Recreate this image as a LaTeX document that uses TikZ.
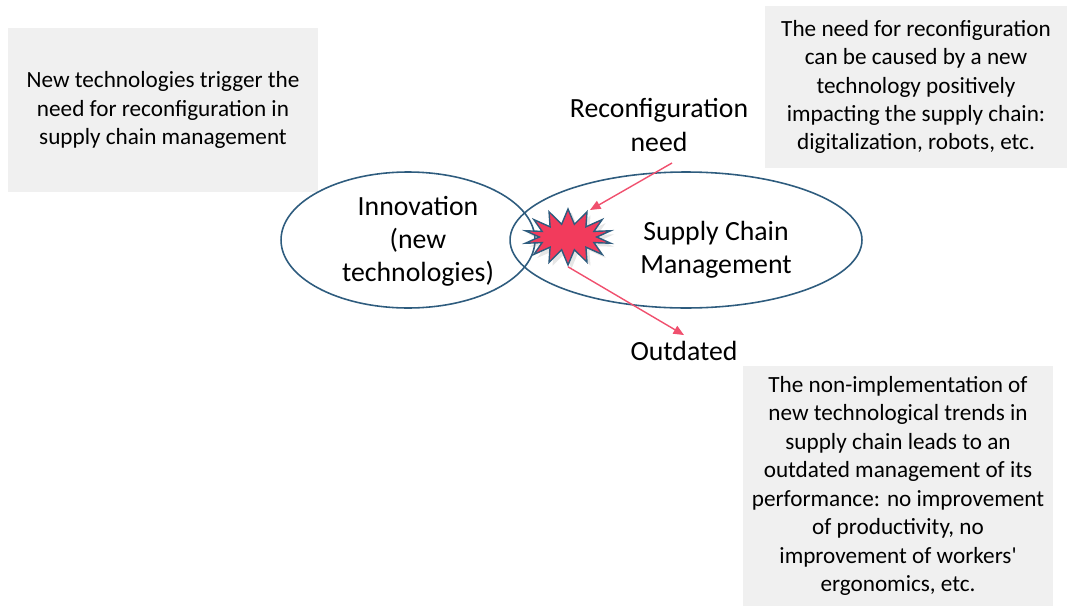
\documentclass[tikz,border=0pt]{standalone}
\usepackage{fontspec}
\setmainfont{Carlito}
\usetikzlibrary{shapes.geometric, shapes.symbols, shadows, arrows.meta}

\definecolor{ringblue}{HTML}{2E5C7E}
\definecolor{burstred}{HTML}{F23B5C}
\definecolor{arrowred}{HTML}{F0506E}
\definecolor{notegray}{HTML}{F0F0F0}

\tikzset{
  note/.style={fill=notegray, align=center, inner sep=0pt, font=\fontsize{13.2}{16.2}\selectfont},
  ring/.style={ellipse, draw=ringblue, line width=0.9pt, inner sep=0pt, minimum height=2.72cm},
  tag/.style={align=center, font=\fontsize{15.8}{18.8}\selectfont},
  pointer/.style={draw=arrowred, line width=0.8pt, -{Triangle[length=6pt,width=5pt,fill=arrowred]}}
}

\begin{document}
\begin{tikzpicture}[x=0.02cm, y=-0.02cm]
\useasboundingbox (0,0) rectangle (1070,605);

% grey notes
\node[note, minimum width=6.2cm, minimum height=3.28cm] (trigger) at (163,110)
  {New technologies trigger the\\need for reconfiguration in\\supply chain management};
\node[note, minimum width=6.06cm, minimum height=3.26cm] (cause) at (916,87)
  {The need for reconfiguration\\can be caused by a new\\technology positively\\impacting the supply chain:\\digitalization, robots, etc.};
\node[note, minimum width=6.2cm, minimum height=4.8cm] (effect) at (898,486)
  {The non-implementation of\\new technological trends in\\supply chain leads to an\\outdated management of its\\performance: no improvement\\of productivity, no\\improvement of workers\textquotesingle\\ergonomics, etc.};

% the two sets
\node[ring, minimum width=5.08cm] (innov) at (408,240) {};
\node[ring, minimum width=7.04cm] (scm) at (686,240) {};
\node[tag] (innovtxt) at (418,241) {Innovation\\(new\\technologies)};
\node[tag] (scmtxt) at (716,250) {Supply Chain\\Management};
\node[tag] (recon) at (659,125) {Reconfiguration\\need};
\node[tag] (outdated) at (684,351) {Outdated};

% the clash
\node[starburst, starburst points=14, starburst point height=0.3cm, random starburst=0,
  fill=burstred, draw=ringblue, line width=0.8pt, minimum width=1.75cm, minimum height=1.12cm,
  drop shadow={opacity=0.2, shadow xshift=2pt, shadow yshift=-2pt}] (star) at (568,237) {};

\coordinate (needtail) at (672,163);
\coordinate (hit) at (590,210);
\draw[pointer] (needtail) -- (hit);
\draw[pointer] (star.south) -- (outdated.north);
\end{tikzpicture}
\end{document}
